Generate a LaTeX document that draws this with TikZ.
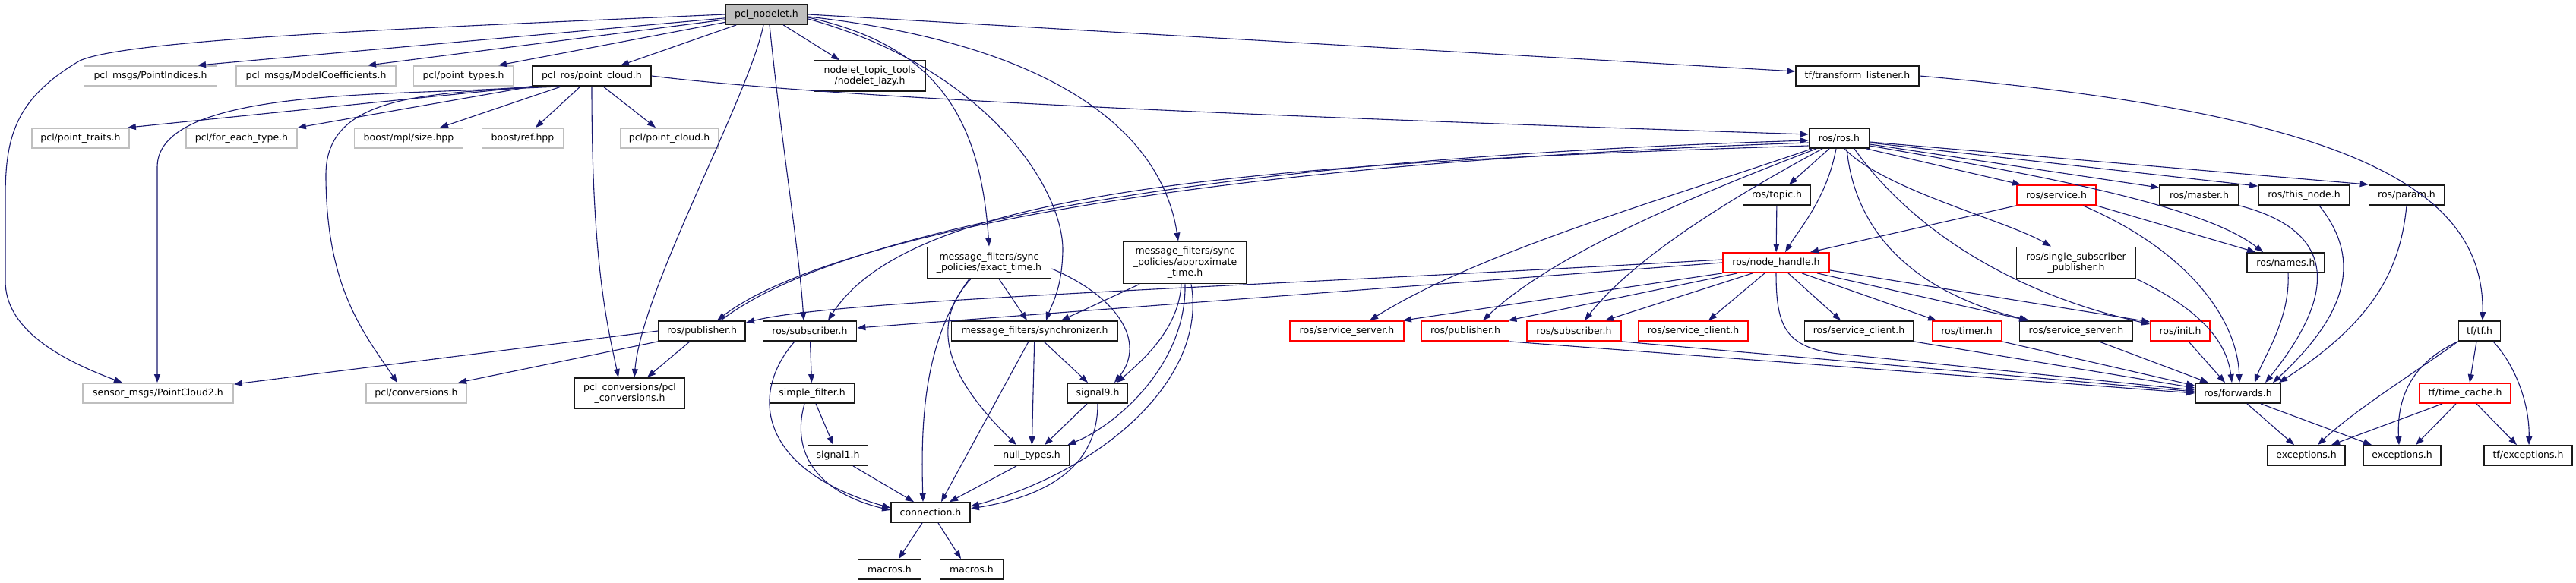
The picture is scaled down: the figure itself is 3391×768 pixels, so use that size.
\documentclass[tikz,border=0pt]{standalone}
\usepackage{fontspec}
\newfontfamily\dejavu{DejaVu Sans}
\usetikzlibrary{arrows.meta}
\definecolor{azulmeia}{RGB}{25,25,112}

\begin{document}
\begin{tikzpicture}[
        x=1pt, y=-1pt,
        >={Triangle[length=11pt,width=8pt]},
        caixa/.style={rectangle, draw=black!90, fill=white, line width=1.8pt, minimum height=26pt, inner sep=0pt, align=center, font=\dejavu\fontsize{12.5}{14.5}\selectfont},
        raiz/.style={caixa, fill=black!25},
        externo/.style={caixa, draw=black!25},
        truncado/.style={caixa, draw=red},
        seta/.style={->, draw=azulmeia, line width=1.1pt}
    ]

        \useasboundingbox[fill=white] (0,0) rectangle (3391,768);

        % ==================================================
        % ARQUIVOS
        % ==================================================

        \node[raiz, minimum width=108pt] (nodelet) at (1009,19) {pcl\_nodelet.h};

        % Linha 1
        \node[externo, minimum width=175pt] (pi) at (198,100) {pcl\_msgs/PointIndices.h};
        \node[externo, minimum width=210pt] (mc) at (416,100) {pcl\_msgs/ModelCoefficients.h};
        \node[externo, minimum width=131pt] (pt) at (610,100) {pcl/point\_types.h};
        \node[caixa, minimum width=156pt] (pcr) at (779,100) {pcl\_ros/point\_cloud.h};
        \node[caixa, minimum width=147pt, minimum height=40pt] (lazy) at (1145,100) {nodelet\_topic\_tools\\/nodelet\_lazy.h};
        \node[caixa, minimum width=162pt] (tfl) at (2445,100) {tf/transform\_listener.h};

        % Linha 2
        \node[externo, minimum width=128pt] (ptr) at (106,182) {pcl/point\_traits.h};
        \node[externo, minimum width=146pt] (fet) at (318,182) {pcl/for\_each\_type.h};
        \node[externo, minimum width=143pt] (mpl) at (538,182) {boost/mpl/size.hpp};
        \node[externo, minimum width=107pt] (ref) at (688,182) {boost/ref.hpp};
        \node[externo, minimum width=129pt] (pcc) at (881,182) {pcl/point\_cloud.h};
        \node[caixa, minimum width=79pt] (ros) at (2421,182) {ros/ros.h};

        % Linha 3
        \node[caixa, minimum width=89pt] (topic) at (2339,257) {ros/topic.h};
        \node[truncado, minimum width=104pt] (srv) at (2707,257) {ros/service.h};
        \node[caixa, minimum width=104pt] (master) at (2895,257) {ros/master.h};
        \node[caixa, minimum width=120pt] (thisnode) at (3033,257) {ros/this\_node.h};
        \node[caixa, minimum width=99pt] (param) at (3168,257) {ros/param.h};

        % Linha 4
        \node[caixa, minimum width=163pt, minimum height=41pt] (exact) at (1302,346) {message\_filters/sync\\\_policies/exact\_time.h};
        \node[caixa, minimum width=162pt, minimum height=55pt] (approx) at (1560,346) {message\_filters/sync\\\_policies/approximate\\\_time.h};
        \node[truncado, minimum width=140pt] (nh) at (2338,346) {ros/node\_handle.h};
        \node[caixa, minimum width=157pt, minimum height=41pt] (ssp) at (2733,346) {ros/single\_subscriber\\\_publisher.h};
        \node[caixa, minimum width=102pt] (names) at (3009,346) {ros/names.h};

        % Linha 5
        \node[caixa, minimum width=114pt] (pubB) at (924,436) {ros/publisher.h};
        \node[caixa, minimum width=123pt] (subB) at (1066,436) {ros/subscriber.h};
        \node[caixa, minimum width=219pt] (sync) at (1362,436) {message\_filters/synchronizer.h};
        \node[truncado, minimum width=150pt] (ssR) at (1773,436) {ros/service\_server.h};
        \node[truncado, minimum width=115pt] (pubR) at (1929,436) {ros/publisher.h};
        \node[truncado, minimum width=124pt] (subR) at (2072,436) {ros/subscriber.h};
        \node[truncado, minimum width=144pt] (scR) at (2229,436) {ros/service\_client.h};
        \node[caixa, minimum width=143pt] (scB) at (2447,436) {ros/service\_client.h};
        \node[truncado, minimum width=91pt] (timer) at (2589,436) {ros/timer.h};
        \node[caixa, minimum width=149pt] (ssB) at (2733,436) {ros/service\_server.h};
        \node[truncado, minimum width=78pt] (init) at (2870,436) {ros/init.h};
        \node[caixa, minimum width=55pt] (tf) at (3264,436) {tf/tf.h};

        % Linha 6
        \node[externo, minimum width=198pt] (pc2) at (208,518) {sensor\_msgs/PointCloud2.h};
        \node[externo, minimum width=132pt] (conv) at (548,518) {pcl/conversions.h};
        \node[caixa, minimum width=145pt, minimum height=40pt] (pclconv) at (829,518) {pcl\_conversions/pcl\\\_conversions.h};
        \node[caixa, minimum width=111pt] (sf) at (1069,518) {simple\_filter.h};
        \node[caixa, minimum width=79pt] (sig9) at (1445,518) {signal9.h};
        \node[caixa, minimum width=112pt] (fwd) at (2946,518) {ros/forwards.h};
        \node[truncado, minimum width=120pt] (tc) at (3245,518) {tf/time\_cache.h};

        % Linha 7
        \node[caixa, minimum width=79pt] (sig1) at (1103,600) {signal1.h};
        \node[caixa, minimum width=99pt] (null) at (1358,600) {null\_types.h};
        \node[caixa, minimum width=102pt] (ex1) at (3036,600) {exceptions.h};
        \node[caixa, minimum width=102pt] (ex2) at (3162,600) {exceptions.h};
        \node[caixa, minimum width=116pt] (tfex) at (3328,600) {tf/exceptions.h};

        % Linhas 8 e 9
        \node[caixa, minimum width=104pt] (conn) at (1225,675) {connection.h};
        \node[caixa, minimum width=83pt] (mac1) at (1171,750) {macros.h};
        \node[caixa, minimum width=83pt] (mac2) at (1279,750) {macros.h};

        % ==================================================
        % SETAS
        % ==================================================

        % pcl_nodelet.h
        \draw[seta] (nodelet.west) .. controls (600,35) and (170,50) .. (105,80) .. controls (20,130) and (7,180) .. (7,260) -- (7,370) .. controls (7,430) and (70,470) .. ([xshift=-47pt]pc2.north);
        \draw[seta] (nodelet) -- ([xshift=62pt]pi.north);
        \draw[seta] (nodelet) -- ([xshift=68pt]mc.north);
        \draw[seta] (nodelet) -- ([xshift=46pt]pt.north);
        \draw[seta] (nodelet) -- ([xshift=38pt]pcr.north);
        \draw[seta] (nodelet) -- ([xshift=-40pt]lazy.north);
        \draw[seta] ([xshift=-4pt]nodelet.south) .. controls (985,130) and (845,380) .. ([xshift=6pt]pclconv.north);
        \draw[seta] ([xshift=4pt]nodelet.south) .. controls (1030,200) and (1052,330) .. ([xshift=-8pt]subB.north);
        \draw[seta] ([yshift=-4pt]nodelet.east) .. controls (1230,60) and (1290,150) .. (exact.north);
        \draw[seta] ([yshift=-6pt]nodelet.east) .. controls (1300,90) and (1400,250) .. (1399,330) .. controls (1398,380) and (1385,400) .. ([xshift=15pt]sync.north);
        \draw[seta] ([yshift=-3pt]nodelet.east) .. controls (1400,60) and (1530,180) .. ([xshift=-9pt]approx.north);
        \draw[seta] (nodelet.east) -- ([yshift=6pt]tfl.west);

        % pcl_ros/point_cloud.h
        \draw[seta] (pcr.south west) -- ([xshift=-3pt]ptr.north east);
        \draw[seta] (pcr.south west) -- (fet.north east);
        \draw[seta] ([xshift=-40pt]pcr.south) -- ([xshift=41pt]mpl.north);
        \draw[seta] ([xshift=-15pt]pcr.south) -- ([xshift=17pt]ref.north);
        \draw[seta] ([xshift=15pt]pcr.south) -- ([xshift=-18pt]pcc.north);
        \draw[seta] (pcr.south west) .. controls (550,128) and (207,110) .. (207,220) -- ([xshift=-1pt]pc2.north);
        \draw[seta] ([xshift=-42pt]pcr.south) .. controls (560,122) and (429,125) .. (429,230) .. controls (429,380) and (480,440) .. ([xshift=-25pt]conv.north);
        \draw[seta] (pcr.south) .. controls (779,350) and (800,430) .. ([xshift=-15pt]pclconv.north);
        \draw[seta] (pcr.east) .. controls (1100,130) and (1700,155) .. ([yshift=5pt]ros.west);

        % ros/publisher.h e ros/subscriber.h
        \draw[seta] ([xshift=25pt]pubB.north) .. controls (1080,320) and (1500,212) .. ([yshift=-3pt]ros.west);
        \draw[seta] ([yshift=-6pt]ros.west) .. controls (1500,218) and (1072,324) .. ([xshift=20pt]pubB.north);
        \draw[seta] ([yshift=-10pt]ros.west) .. controls (1650,215) and (1200,250) .. ([xshift=24pt]subB.north);
        \draw[seta] (pubB.west) -- ([yshift=-2pt]pc2.north east);
        \draw[seta] (pubB.south west) -- ([xshift=55pt]conv.north);
        \draw[seta] ([xshift=-16pt]pubB.south) -- ([xshift=23pt]pclconv.north);
        \draw[seta] (subB) -- (sf);
        \draw[seta] ([xshift=-20pt]subB.south) .. controls (985,520) and (1000,620) .. ([yshift=6pt]conn.west);

        % message_filters
        \draw[seta] ([xshift=13pt]exact.south) -- ([xshift=-10pt]sync.north);
        \draw[seta] ([yshift=-8pt]exact.east) .. controls (1470,390) and (1510,450) .. ([xshift=22pt]sig9.north);
        \draw[seta] ([xshift=-24pt]exact.south) .. controls (1220,430) and (1250,500) .. ([xshift=-20pt]null.north);
        \draw[seta] ([xshift=-26pt]exact.south) .. controls (1215,450) and (1212,560) .. ([xshift=-10pt]conn.north);
        \draw[seta] ([xshift=-60pt]approx.south) -- ([xshift=35pt]sync.north);
        \draw[seta] ([xshift=-5pt]approx.south) .. controls (1552,430) and (1510,470) .. ([xshift=25pt]sig9.north);
        \draw[seta] (approx.south) .. controls (1562,480) and (1470,560) .. ([xshift=-3pt]null.north east);
        \draw[seta] ([xshift=8pt]approx.south) .. controls (1590,500) and (1450,620) .. ([yshift=8pt]conn.east);
        \draw[seta] ([xshift=12pt]sync.south) -- ([xshift=-13pt]sig9.north);
        \draw[seta] (sync) -- (null);
        \draw[seta] ([xshift=-8pt]sync.south) -- ([xshift=14pt]conn.north);
        \draw[seta] ([xshift=-14pt]sig9.south) -- ([xshift=17pt]null.north);
        \draw[seta] (sig9.south) .. controls (1445,600) and (1400,650) .. ([yshift=5pt]conn.east);
        \draw[seta] ([xshift=5pt]sf.south) -- ([xshift=-6pt]sig1.north);
        \draw[seta] ([xshift=-10pt]sf.south) .. controls (1040,600) and (1080,650) .. ([yshift=3pt]conn.west);
        \draw[seta] ([xshift=20pt]sig1.south) -- ([xshift=-22pt]conn.north);
        \draw[seta] ([xshift=-20pt]null.south) -- ([xshift=25pt]conn.north);
        \draw[seta] ([xshift=-11pt]conn.south) -- ([xshift=12pt]mac1.north);
        \draw[seta] ([xshift=10pt]conn.south) -- ([xshift=-14pt]mac2.north);

        % ros/ros.h
        \draw[seta] ([xshift=-13pt]ros.south) -- ([xshift=16pt]topic.north);
        \draw[seta] ([xshift=-4pt]ros.south) .. controls (2405,260) and (2370,300) .. ([xshift=12pt]nh.north);
        \draw[seta] ([xshift=36pt]ros.south) -- ([xshift=-47pt]srv.north);
        \draw[seta] ([xshift=7pt]ros.south) .. controls (2480,250) and (2640,290) .. ([xshift=-33pt]ssp.north);
        \draw[seta] ([yshift=-8pt]ros.east) -- ([yshift=-4pt]master.north west);
        \draw[seta] ([yshift=-6pt]ros.east) -- ([yshift=-2pt]thisnode.north west);
        \draw[seta] ([yshift=-5pt]ros.east) -- (param.north west);
        \draw[seta] ([yshift=-10pt]ros.east) .. controls (2680,230) and (2900,270) .. ([xshift=-30pt]names.north);
        \draw[seta] ([xshift=-36pt]ros.south) .. controls (2200,260) and (1950,330) .. ([xshift=30pt]ssR.north);
        \draw[seta] ([xshift=-30pt]ros.south) .. controls (2250,250) and (2050,330) .. ([xshift=23pt]pubR.north);
        \draw[seta] ([xshift=-22pt]ros.south) .. controls (2280,260) and (2150,340) .. ([xshift=14pt]subR.north);
        \draw[seta] ([xshift=10pt]ros.south) .. controls (2440,290) and (2500,380) .. ([xshift=-62pt]ssB.north);
        \draw[seta] ([xshift=20pt]ros.south) .. controls (2500,280) and (2620,380) .. ([yshift=9pt]init.west);
        \draw[seta] (topic) -- (nh);

        % ros/service.h
        \draw[seta] (srv.south west) -- ([xshift=45pt]nh.north);
        \draw[seta] (srv.south east) -- ([xshift=-40pt]names.north);
        \draw[seta] ([xshift=35pt]srv.south) .. controls (2880,330) and (2945,420) .. ([xshift=2pt]fwd.north);

        % ros/node_handle.h
        \draw[seta] ([yshift=4pt]nh.west) .. controls (1600,380) and (1100,395) .. ([yshift=11pt]pubB.east);
        \draw[seta] (nh.west) -- ([yshift=4pt]subB.east);
        \draw[seta] (nh.south west) -- ([xshift=-2pt]ssR.north east);
        \draw[seta] ([xshift=20pt]nh.south west) -- ([xshift=-2pt]pubR.north east);
        \draw[seta] ([xshift=40pt]nh.south west) -- ([xshift=41pt]subR.north);
        \draw[seta] ([xshift=-15pt]nh.south) -- ([xshift=20pt]scR.north);
        \draw[seta] ([xshift=16pt]nh.south) -- ([xshift=-24pt]scB.north);
        \draw[seta] ([xshift=34pt]nh.south) -- ([xshift=-40pt]timer.north);
        \draw[seta] ([xshift=54pt]nh.south) -- ([xshift=-64pt]ssB.north);
        \draw[seta] ([yshift=-10pt]nh.east) -- ([yshift=12pt]init.west);
        \draw[seta] (nh.south) .. controls (2338,430) and (2350,458) .. (2420,466) -- ([yshift=4pt]fwd.west);

        % ros/forwards.h
        \draw[seta] (pubR.south east) -- (fwd.west);
        \draw[seta] (subR.south east) -- ([yshift=2pt]fwd.west);
        \draw[seta] (scB.south east) -- ([yshift=7pt]fwd.west);
        \draw[seta] (timer.south east) -- ([yshift=10pt]fwd.west);
        \draw[seta] ([xshift=30pt]ssB.south) -- ([xshift=-39pt]fwd.north);
        \draw[seta] ([xshift=11pt]init.south) -- ([xshift=-17pt]fwd.north);
        \draw[seta] (ssp.south east) .. controls (2880,400) and (2930,440) .. ([xshift=-8pt]fwd.north);
        \draw[seta] ([xshift=3pt]names.south) .. controls (3015,420) and (2980,470) .. ([xshift=22pt]fwd.north);
        \draw[seta] (master.south east) .. controls (3060,300) and (3090,370) .. ([xshift=36pt]fwd.north);
        \draw[seta] ([xshift=20pt]thisnode.south) .. controls (3100,330) and (3105,400) .. ([xshift=46pt]fwd.north);
        \draw[seta] (param.south) .. controls (3160,350) and (3130,420) .. ([xshift=54pt]fwd.north);
        \draw[seta] ([xshift=12pt]fwd.south) -- ([xshift=-16pt]ex1.north);
        \draw[seta] ([xshift=30pt]fwd.south) -- ([xshift=-40pt]ex2.north);

        % tf
        \draw[seta] (tfl.east) .. controls (3100,150) and (3270,250) .. ([xshift=4pt]tf.north);
        \draw[seta] ([xshift=-4pt]tf.south) -- ([xshift=6pt]tc.north);
        \draw[seta] ([xshift=18pt]tf.south) .. controls (3310,480) and (3330,530) .. ([xshift=1pt]tfex.north);
        \draw[seta] (tf.south west) .. controls (3180,490) and (3100,540) .. ([xshift=15pt]ex1.north);
        \draw[seta] (tf.south west) .. controls (3170,480) and (3155,530) .. ([xshift=-4pt]ex2.north);
        \draw[seta] ([xshift=-30pt]tc.south) -- ([xshift=33pt]ex1.north);
        \draw[seta] ([xshift=-12pt]tc.south) -- ([xshift=18pt]ex2.north);
        \draw[seta] ([xshift=15pt]tc.south) -- ([xshift=-15pt]tfex.north);

    \end{tikzpicture}
\end{document}
